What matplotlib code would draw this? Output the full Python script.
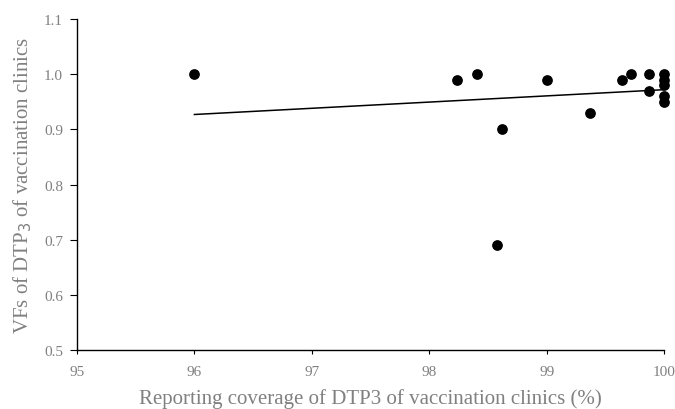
import numpy as np
import matplotlib
matplotlib.use("Agg")
import matplotlib.pyplot as plt

coverage = [96.0, 98.24, 98.41, 98.58, 98.62, 99.0, 99.37, 99.64, 99.72, 99.87, 99.87,
            100.0, 100.0, 100.0, 100.0, 100.0]
vfs = [1.00, 0.99, 1.00, 0.69, 0.90, 0.99, 0.93, 0.99, 1.00, 1.00, 0.97,
       1.00, 0.99, 0.98, 0.96, 0.95]
# linear trend line (ends)
trend_x = [96.0, 100.0]
trend_y = [0.927, 0.972]
x_ticks = [95, 96, 97, 98, 99, 100]
y_ticks = [0.5, 0.6, 0.7, 0.8, 0.9, 1.0, 1.1]

plt.rcParams['font.family'] = ['Liberation Serif', 'DejaVu Serif']
fig = plt.figure(figsize=(6.75, 4.1), dpi=100)
ax = fig.add_axes([0.114, 0.144, 0.870, 0.807])

ax.plot(trend_x, trend_y, color='black', lw=1.1, zorder=2)
ax.scatter(coverage, vfs, s=45, color='black', zorder=3, clip_on=False)

ax.set_xlim(95, 100)
ax.set_ylim(0.5, 1.1)
ax.set_xticks(x_ticks)
ax.set_yticks(y_ticks)
ax.set_yticklabels([f"{v:.1f}" for v in y_ticks])
for s in ['top', 'right']:
    ax.spines[s].set_visible(False)
for s in ['left', 'bottom']:
    ax.spines[s].set_color('black')
    ax.spines[s].set_linewidth(1.0)
ax.tick_params(axis='both', direction='out', width=0.8, colors='black',
               labelcolor='#808080', labelsize=11)
ax.tick_params(axis='x', length=3, pad=8)
ax.tick_params(axis='y', length=5, pad=5)
ax.set_xlabel('Reporting coverage of DTP3 of vaccination clinics (%)', color='#808080', fontsize=15, labelpad=7)
ax.set_ylabel('VFs of DTP$_3$ of vaccination clinics', color='#808080', fontsize=15, labelpad=7)

fig.savefig('out.png', dpi=100)
